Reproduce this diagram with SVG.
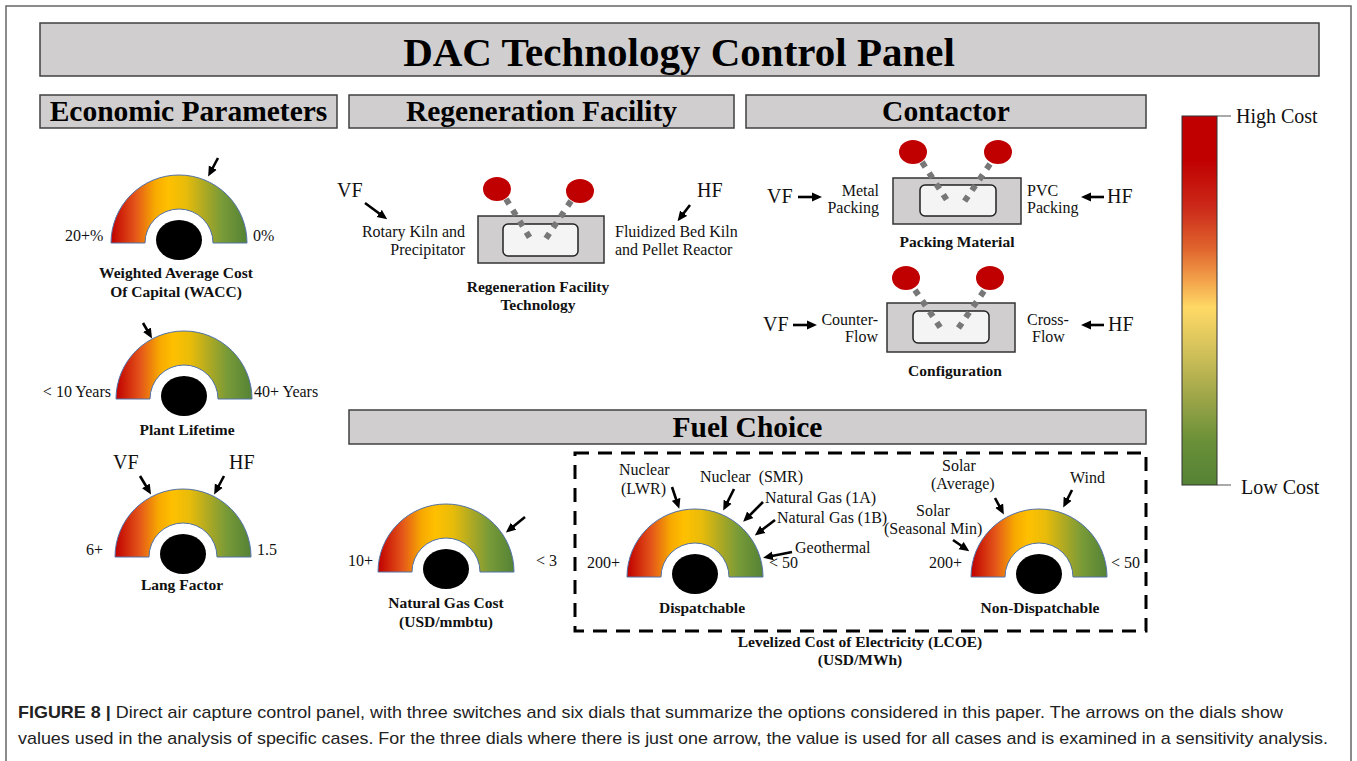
<svg xmlns="http://www.w3.org/2000/svg" xmlns:xlink="http://www.w3.org/1999/xlink" width="1357" height="761" viewBox="0 0 1357 761">
<style>
.box{fill:#d0cece;stroke:#404040;stroke-width:1.5}
.hdr{font-family:"Liberation Serif","Times New Roman",serif;font-weight:bold;font-size:29.5px;fill:#000;text-anchor:middle}
.lbl{font-family:"Liberation Serif","Times New Roman",serif;font-size:16px;fill:#111}
.bl{font-family:"Liberation Serif","Times New Roman",serif;font-size:15.5px;font-weight:bold;fill:#111;text-anchor:middle}
.big{font-family:"Liberation Serif","Times New Roman",serif;font-size:20px;fill:#111}
.end{text-anchor:end}
.arr{stroke:#000;stroke-width:2.6;fill:none;marker-end:url(#ah)}
.sw-o{fill:#d0cece;stroke:#333;stroke-width:1.5}
.sw-i{fill:#f4f4f4;stroke:#222;stroke-width:1.5}
.knob{fill:#c00000}
.dots{stroke:#777;stroke-width:6;stroke-dasharray:6 7;fill:none}
.cap{font-family:"Liberation Sans",Arial,sans-serif;font-size:17px;fill:#222}
</style>
<defs>
<linearGradient id="dg" x1="0" y1="0" x2="1" y2="0">
<stop offset="0" stop-color="#c00000"/>
<stop offset="0.18" stop-color="#e4561a"/>
<stop offset="0.32" stop-color="#f7a800"/>
<stop offset="0.42" stop-color="#ffc000"/>
<stop offset="0.55" stop-color="#e8bc0a"/>
<stop offset="0.68" stop-color="#b0aa22"/>
<stop offset="0.82" stop-color="#789a38"/>
<stop offset="1" stop-color="#548235"/>
</linearGradient>
<linearGradient id="cg" x1="0" y1="0" x2="0" y2="1">
<stop offset="0" stop-color="#c00000"/>
<stop offset="0.12" stop-color="#c00000"/>
<stop offset="0.25" stop-color="#cc2a1a"/>
<stop offset="0.36" stop-color="#e0652e"/>
<stop offset="0.45" stop-color="#f4a54c"/>
<stop offset="0.52" stop-color="#ffd966"/>
<stop offset="0.62" stop-color="#d9c55c"/>
<stop offset="0.75" stop-color="#a3a84a"/>
<stop offset="0.88" stop-color="#6a9038"/>
<stop offset="1" stop-color="#548235"/>
</linearGradient>
<marker id="ah" viewBox="0 0 10 10" refX="6" refY="5" markerWidth="10" markerHeight="10" markerUnits="userSpaceOnUse" orient="auto">
<path d="M0,0.5 L10,5 L0,9.5 Z" fill="#000"/>
</marker>
<g id="dial">
<path d="M-68,0 A68,68 0 0 1 68,0 L34,0 A34,34 0 0 0 -34,0 Z" fill="url(#dg)" stroke="#5272a8" stroke-width="1"/>
<ellipse cx="0" cy="-3" rx="23" ry="20" fill="#000"/>
</g>
</defs>

<rect x="6" y="6" width="1345" height="770" fill="#fff" stroke="#666" stroke-width="1.5"/>

<g id="title">
<rect class="box" x="40" y="23" width="1279" height="53"/>
<text class="hdr" x="679" y="66" font-size="41" style="font-size:41px">DAC Technology Control Panel</text>
</g>

<g id="hdr-economic">
<rect class="box" x="40" y="95" width="297" height="33"/>
<text class="hdr" x="188.5" y="121">Economic Parameters</text>
</g>
<g id="hdr-regen">
<rect class="box" x="349" y="95" width="385" height="33"/>
<text class="hdr" x="541.5" y="121">Regeneration Facility</text>
</g>
<g id="hdr-contactor">
<rect class="box" x="746" y="95" width="400" height="33"/>
<text class="hdr" x="946" y="121">Contactor</text>
</g>
<g id="hdr-fuel">
<rect class="box" x="349" y="410" width="797" height="34"/>
<text class="hdr" x="747.5" y="437">Fuel Choice</text>
</g>

<g id="colorbar">
<rect x="1182" y="116" width="35" height="369" fill="url(#cg)" stroke="#333" stroke-width="1"/>
<line x1="1217" y1="116" x2="1231" y2="116" stroke="#555" stroke-width="1"/>
<line x1="1217" y1="485" x2="1231" y2="485" stroke="#555" stroke-width="1"/>
<text class="big" x="1236" y="123">High Cost</text>
<text class="big" x="1241" y="494">Low Cost</text>
</g>

<g id="dial-wacc">
<use href="#dial" x="179" y="243"/>
<text class="lbl" x="65" y="241">20+%</text>
<text class="lbl" x="253" y="241">0%</text>
<text class="bl" x="176" y="278">Weighted Average Cost</text>
<text class="bl" x="176" y="297">Of Capital (WACC)</text>
</g>

<g id="dial-lifetime">
<use href="#dial" x="184" y="399"/>
<text class="lbl end" x="111" y="397">&lt; 10 Years</text>
<text class="lbl" x="254" y="397">40+ Years</text>
<text class="bl" x="187" y="435">Plant Lifetime</text>
</g>

<g id="dial-lang">
<use href="#dial" x="183" y="557"/>
<text class="big" x="113" y="469">VF</text>
<text class="big" x="229" y="469">HF</text>
<text class="lbl" x="86" y="555">6+</text>
<text class="lbl" x="257" y="555">1.5</text>
<text class="bl" x="182" y="590">Lang Factor</text>
</g>

<g id="switch-regen">
<rect class="sw-o" x="478" y="216" width="126" height="47"/>
<rect class="sw-i" x="503" y="224" width="75" height="32" rx="5"/>
<line class="dots" x1="506" y1="199" x2="533" y2="243"/>
<line class="dots" x1="571" y1="201" x2="543" y2="243"/>
<ellipse class="knob" cx="497" cy="189" rx="14" ry="12"/>
<ellipse class="knob" cx="580" cy="191" rx="14" ry="12"/>
<text class="big" x="337" y="197">VF</text>
<text class="big" x="697" y="197">HF</text>
<text class="lbl end" x="465" y="237">Rotary Kiln and</text>
<text class="lbl end" x="465" y="255">Precipitator</text>
<text class="lbl" x="615" y="237">Fluidized Bed Kiln</text>
<text class="lbl" x="615" y="255">and Pellet Reactor</text>
<text class="bl" x="538" y="292">Regeneration Facility</text>
<text class="bl" x="538" y="310">Technology</text>
</g>

<g id="switch-packing">
<rect class="sw-o" x="893" y="178" width="128" height="46"/>
<rect class="sw-i" x="920" y="185" width="76" height="31" rx="5"/>
<line class="dots" x1="922" y1="162" x2="950" y2="205"/>
<line class="dots" x1="990" y1="164" x2="962" y2="205"/>
<ellipse class="knob" cx="913" cy="152" rx="14" ry="12"/>
<ellipse class="knob" cx="998" cy="152" rx="14" ry="12"/>
<text class="big" x="767" y="203">VF</text>
<text class="big" x="1107" y="203">HF</text>
<text class="lbl end" x="879" y="196">Metal</text>
<text class="lbl end" x="879" y="213">Packing</text>
<text class="lbl" x="1027" y="196">PVC</text>
<text class="lbl" x="1027" y="213">Packing</text>
<text class="bl" x="957" y="247">Packing Material</text>
</g>

<g id="switch-config">
<rect class="sw-o" x="887" y="303" width="128" height="49"/>
<rect class="sw-i" x="913" y="311" width="76" height="32" rx="5"/>
<line class="dots" x1="915" y1="290" x2="944" y2="333"/>
<line class="dots" x1="984" y1="291" x2="955" y2="333"/>
<ellipse class="knob" cx="906" cy="278" rx="14" ry="12"/>
<ellipse class="knob" cx="990" cy="278" rx="14" ry="12"/>
<text class="big" x="763" y="331">VF</text>
<text class="big" x="1108" y="331">HF</text>
<text class="lbl end" x="878" y="325">Counter-</text>
<text class="lbl end" x="878" y="342">Flow</text>
<text class="lbl" x="1027" y="325">Cross-</text>
<text class="lbl" x="1032" y="342">Flow</text>
<text class="bl" x="955" y="376">Configuration</text>
</g>

<g id="dial-gas">
<use href="#dial" x="446" y="572"/>
<text class="lbl" x="348" y="566">10+</text>
<text class="lbl" x="536" y="566">&lt; 3</text>
<text class="bl" x="446" y="608">Natural Gas Cost</text>
<text class="bl" x="446" y="627">(USD/mmbtu)</text>
</g>

<g id="lcoe">
<rect x="575" y="453" width="571" height="178" fill="none" stroke="#000" stroke-width="3" stroke-dasharray="14 9"/>
<text class="bl" x="860" y="647">Levelized Cost of Electricity (LCOE)</text>
<text class="bl" x="860" y="665">(USD/MWh)</text>
</g>

<g id="dial-dispatchable">
<use href="#dial" x="695" y="577"/>
<text class="lbl" x="619" y="475">Nuclear</text>
<text class="lbl" x="621" y="494">(LWR)</text>
<text class="lbl" x="700" y="482" xml:space="preserve">Nuclear  (SMR)</text>
<text class="lbl" x="765" y="503">Natural Gas (1A)</text>
<text class="lbl" x="777" y="523">Natural Gas (1B)</text>
<text class="lbl" x="795" y="553">Geothermal</text>
<text class="lbl" x="587" y="568">200+</text>
<text class="lbl" x="769" y="568">&lt; 50</text>
<text class="bl" x="702" y="613">Dispatchable</text>
</g>

<g id="dial-nondispatchable">
<use href="#dial" x="1039" y="577"/>
<text class="lbl" x="942" y="471">Solar</text>
<text class="lbl" x="931" y="489">(Average)</text>
<text class="lbl" x="1070" y="483">Wind</text>
<text class="lbl" x="916" y="516">Solar</text>
<text class="lbl" x="884" y="534">(Seasonal Min)</text>
<text class="lbl" x="929" y="568">200+</text>
<text class="lbl" x="1111" y="568">&lt; 50</text>
<text class="bl" x="1040" y="613">Non-Dispatchable</text>
</g>

<g id="connectors">
<line class="arr" x1="218" y1="158" x2="210" y2="173"/>
<line class="arr" x1="143" y1="323" x2="150" y2="335"/>
<line class="arr" x1="140" y1="476" x2="149" y2="491"/>
<line class="arr" x1="224" y1="476" x2="216" y2="491"/>
<line class="arr" x1="365" y1="203" x2="384" y2="217"/>
<line class="arr" x1="690" y1="205" x2="680" y2="218"/>
<line class="arr" x1="798" y1="197" x2="818" y2="197"/>
<line class="arr" x1="1104" y1="197" x2="1085" y2="197"/>
<line class="arr" x1="793" y1="325" x2="813" y2="325"/>
<line class="arr" x1="1104" y1="325" x2="1085" y2="325"/>
<line class="arr" x1="525" y1="517" x2="509" y2="530"/>
<line class="arr" x1="672" y1="487" x2="678" y2="505"/>
<line class="arr" x1="734" y1="489" x2="725" y2="507"/>
<line class="arr" x1="763" y1="502" x2="746" y2="519"/>
<line class="arr" x1="775" y1="520" x2="758" y2="533"/>
<line class="arr" x1="792" y1="552" x2="767" y2="557"/>
<line class="arr" x1="995" y1="498" x2="1002" y2="511"/>
<line class="arr" x1="1072" y1="490" x2="1065" y2="504"/>
<line class="arr" x1="953" y1="540" x2="966" y2="549"/>
</g>

<g id="caption">
<text class="cap" x="18" y="718" textLength="1265" lengthAdjust="spacingAndGlyphs"><tspan font-weight="bold">FIGURE 8 | </tspan>Direct air capture control panel, with three switches and six dials that summarize the options considered in this paper. The arrows on the dials show</text>
<text class="cap" x="18" y="744" textLength="1310" lengthAdjust="spacingAndGlyphs">values used in the analysis of specific cases. For the three dials where there is just one arrow, the value is used for all cases and is examined in a sensitivity analysis.</text>
</g>
</svg>
